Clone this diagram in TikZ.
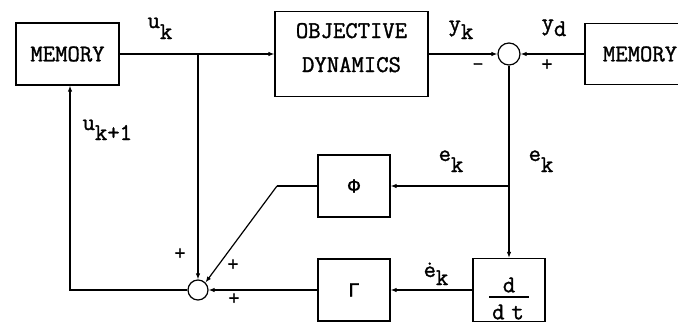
\documentclass[tikz,border=0pt]{standalone}
\usepackage{fontspec}
\newfontfamily\twfont[FakeBold=1.3]{Latin Modern Mono}
\newfontfamily\grkfont[FakeBold=1]{Liberation Mono}
\usetikzlibrary{arrows.meta}
\newcommand{\lsub}[3][11pt]{#2\raisebox{-#1}{#3}}
\begin{document}
\begin{tikzpicture}[x=1pt,y=-1pt, line width=1.2pt,
  >={Latex[length=6pt,width=4.5pt]},
  font=\fontsize{24}{28}\selectfont\twfont,
  box/.style={draw, rectangle, inner sep=0pt},
  sumnode/.style={draw, circle, inner sep=0pt},
  sgn/.style={font=\fontsize{22}{24}\selectfont\twfont, inner sep=0pt},
  grk/.style={font=\fontsize{20}{22}\selectfont\grkfont},
  lbl/.style={anchor=base west, inner sep=0pt}]
\useasboundingbox (0,0) rectangle (678,324);
% blocks
\node[box, minimum width=103pt, minimum height=62pt] (mem1) at (67.5,54) {MEMORY};
\node[box, minimum width=153pt, minimum height=85pt] (obj) at (351.5,54) {};
\node[anchor=base, inner sep=0pt] (objt1) at (351.5,38) {OBJECTIVE};
\node[anchor=base, inner sep=0pt] (objt2) at (351.5,72) {DYNAMICS};
\node[sumnode, minimum size=22pt] (s1) at (509,54) {};
\node[box, minimum width=110pt, minimum height=61pt] (mem2) at (640,54) {MEMORY};
\node[box, grk, minimum width=72pt, minimum height=62pt] (phi) at (354,186) {Φ};
\node[box, grk, minimum width=72pt, minimum height=62pt] (gam) at (354,290) {Γ};
\node[box, minimum width=72pt, minimum height=63pt] (dd) at (509,290) {};
\node[inner sep=0pt] (ddn) at (509,285) {d};
\node[inner sep=0pt] (ddd) at (508,312) {d\hspace{7pt}t};
\draw[line width=1.4pt] (489,297) -- (529,297);
\node[sumnode, minimum size=20pt] (s2) at (198,290) {};
% coordinates
\coordinate (b1) at (198,54);
\coordinate (b2) at (509,186);
\coordinate (c1) at (277,186);
\coordinate (c2) at (70,290);
% connectors
\draw[->] (mem1.east) -- (obj.west);
\draw[->] (obj.east) -- (s1.west);
\draw[->] (mem2.west) -- (s1.east);
\draw[->] (s1.south) -- (dd.north);
\draw[->] (b2) -- (phi.east);
\draw[->] (dd.west) -- (gam.east);
\draw[->] (gam.west) -- (s2.east);
\draw[->] (b1) -- (s2.north);
\draw (phi.west) -- (c1);
\draw[->] (c1) -- (s2.north east);
\draw[->] (s2.west) -- (c2) -- (mem1.south -| c2);
% labels
\node[lbl] (luk) at (147,28) {\lsub{u}{k}};
\node[lbl] (lyk) at (448,31) {\lsub[8pt]{y}{k}};
\node[lbl] (lyd) at (541,30) {\lsub[6pt]{y}{d}};
\node[lbl] (lukp) at (82,130) {\lsub[10pt]{u}{k+1}};
\node[lbl] (lek1) at (438,161) {\lsub{e}{k}};
\node[lbl] (lek2) at (528,161) {\lsub{e}{k}};
\node[lbl] (ledk) at (423,277) {\lsub[8pt]{\.{e}}{k}};
\node[sgn] (m1) at (478,67) {-};
\node[sgn] (p1) at (547,65) {+};
\node[sgn] (p2) at (180,254) {+};
\node[sgn] (p3) at (233,265) {+};
\node[sgn] (p4) at (234,299) {+};
\end{tikzpicture}
\end{document}
